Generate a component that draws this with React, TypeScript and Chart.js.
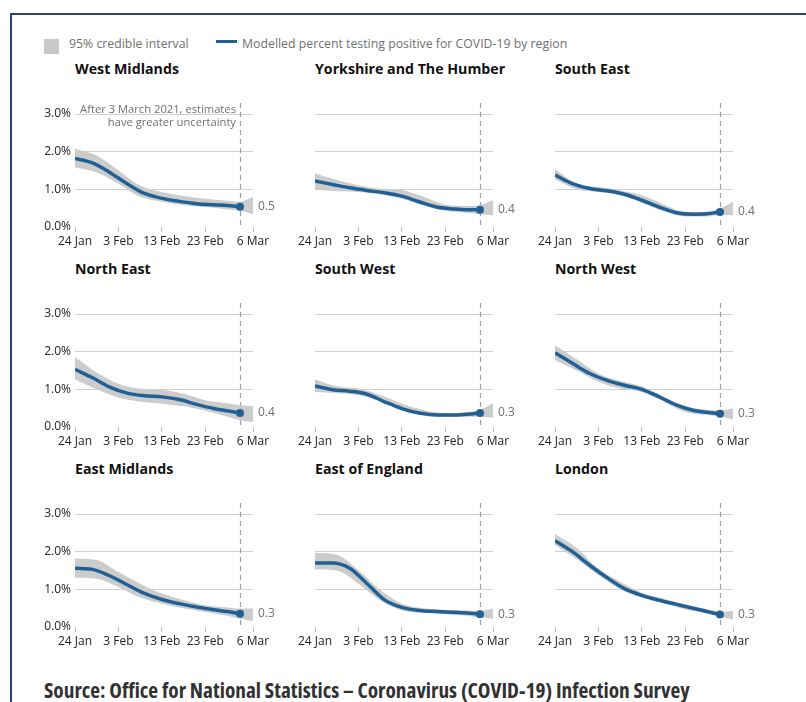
import React, { useEffect, useRef } from "react";
import { Chart, registerables } from "chart.js";

Chart.register(...registerables);

// ---- Data ----
const regions = [
  "West Midlands", "Yorkshire and The Humber", "South East",
  "North East", "South West", "North West",
  "East Midlands", "East of England", "London",
];
// days since 24 Jan 2021
const lineDays = [0, 4, 8, 12, 16, 20, 24, 28, 32, 35, 38];
const bandDays = [0, 5, 10, 15, 20, 25, 30, 35, 38, 41];
const tickDays = [0, 10, 20, 30, 41];
const tickLabels = ["24 Jan", "3 Feb", "13 Feb", "23 Feb", "6 Mar"];
const yTicks = [0, 1, 2, 3];
const endLabels = ["0.5", "0.4", "0.4", "0.4", "0.3", "0.3", "0.3", "0.3", "0.3"];

const westMidlandsLine = [1.82, 1.7, 1.45, 1.15, 0.89, 0.76, 0.68, 0.62, 0.59, 0.57, 0.54];
const westMidlandsUpper = [2.08, 1.9, 1.5, 1.1, 0.93, 0.82, 0.75, 0.7, 0.67, 0.8];
const westMidlandsLower = [1.58, 1.45, 1.15, 0.8, 0.67, 0.58, 0.53, 0.47, 0.43, 0.34];

const yorkshireLine = [1.22, 1.13, 1.04, 0.97, 0.91, 0.82, 0.67, 0.53, 0.48, 0.46, 0.46];
const yorkshireUpper = [1.42, 1.25, 1.11, 1.02, 0.98, 0.8, 0.59, 0.56, 0.58, 0.71];
const yorkshireLower = [0.99, 0.95, 0.93, 0.86, 0.75, 0.57, 0.43, 0.38, 0.34, 0.31];

const southEastLine = [1.38, 1.15, 1.02, 0.96, 0.87, 0.71, 0.53, 0.38, 0.34, 0.35, 0.4];
const southEastUpper = [1.53, 1.15, 1.06, 0.97, 0.84, 0.6, 0.4, 0.4, 0.49, 0.67];
const southEastLower = [1.26, 1.0, 0.93, 0.85, 0.64, 0.42, 0.28, 0.28, 0.31, 0.31];

const northEastLine = [1.53, 1.31, 1.06, 0.9, 0.83, 0.8, 0.73, 0.6, 0.49, 0.43, 0.37];
const northEastUpper = [1.86, 1.45, 1.15, 1.02, 0.99, 0.88, 0.71, 0.63, 0.58, 0.56];
const northEastLower = [1.26, 1.0, 0.78, 0.67, 0.62, 0.55, 0.43, 0.28, 0.18, 0.13];

const southWestLine = [1.09, 0.99, 0.95, 0.87, 0.67, 0.49, 0.37, 0.32, 0.32, 0.34, 0.37];
const southWestUpper = [1.26, 1.08, 1.02, 0.85, 0.62, 0.45, 0.37, 0.39, 0.46, 0.64];
const southWestLower = [0.93, 0.9, 0.84, 0.7, 0.44, 0.32, 0.27, 0.27, 0.27, 0.25];

const northWestLine = [1.97, 1.69, 1.42, 1.24, 1.11, 1.0, 0.8, 0.58, 0.44, 0.39, 0.35];
const northWestUpper = [2.17, 1.8, 1.42, 1.22, 1.08, 0.8, 0.55, 0.46, 0.44, 0.49];
const northWestLower = [1.77, 1.5, 1.2, 1.02, 0.93, 0.68, 0.4, 0.32, 0.28, 0.2];

const eastMidlandsLine = [1.56, 1.53, 1.36, 1.12, 0.89, 0.73, 0.62, 0.53, 0.46, 0.41, 0.35];
const eastMidlandsUpper = [1.82, 1.78, 1.46, 1.15, 0.89, 0.72, 0.58, 0.52, 0.49, 0.49];
const eastMidlandsLower = [1.31, 1.28, 1.06, 0.78, 0.62, 0.5, 0.4, 0.3, 0.22, 0.16];

const eastEnglandLine = [1.7, 1.7, 1.56, 1.15, 0.72, 0.52, 0.44, 0.41, 0.39, 0.37, 0.34];
const eastEnglandUpper = [1.97, 1.92, 1.51, 0.98, 0.62, 0.5, 0.46, 0.44, 0.43, 0.49];
const eastEnglandLower = [1.53, 1.5, 1.15, 0.71, 0.44, 0.38, 0.34, 0.3, 0.25, 0.22];

const londonLine = [2.29, 2.0, 1.64, 1.31, 1.02, 0.84, 0.71, 0.6, 0.49, 0.41, 0.33];
const londonUpper = [2.47, 2.1, 1.55, 1.2, 0.91, 0.75, 0.6, 0.48, 0.4, 0.43];
const londonLower = [2.17, 1.8, 1.38, 1.0, 0.78, 0.63, 0.47, 0.36, 0.27, 0.2];

const lineSeries = [westMidlandsLine, yorkshireLine, southEastLine, northEastLine, southWestLine, northWestLine, eastMidlandsLine, eastEnglandLine, londonLine];
const upperSeries = [westMidlandsUpper, yorkshireUpper, southEastUpper, northEastUpper, southWestUpper, northWestUpper, eastMidlandsUpper, eastEnglandUpper, londonUpper];
const lowerSeries = [westMidlandsLower, yorkshireLower, southEastLower, northEastLower, southWestLower, northWestLower, eastMidlandsLower, eastEnglandLower, londonLower];

const uncertaintyDay = 38;
const annotationLines = ["After 3 March 2021, estimates", "have greater uncertainty"];

// ---- Styles ----
const FONT = "'Open Sans', 'Noto Sans', sans-serif";
const BLUE = "#206095";
const BAND = "#cccccc";
const GRID = "#d0d0d0";
const TEXT = "#222222";
const MUTED = "#707070";

const Y_AXIS_W = 45;
const PLOT_W = 178;
const RIGHT_PAD = 35;
const TOP_PAD = 20;
const PLOT_H = 113;
const X_AXIS_H = 25;

function Panel({ idx }: { idx: number }) {
  const ref = useRef<HTMLCanvasElement | null>(null);
  const col = idx % 3;
  const row = Math.floor(idx / 3);
  const left = 30 + 240 * col;
  const top = 94 + 200 * row;
  const width = Y_AXIS_W + PLOT_W + RIGHT_PAD;
  const height = TOP_PAD + PLOT_H + X_AXIS_H;

  useEffect(() => {
    if (!ref.current) return;
    const line = lineSeries[idx];
    const upper = upperSeries[idx];
    const lower = lowerSeries[idx];
    const showY = col === 0;

    const panelPlugin = {
      id: "panelDecor",
      beforeDatasetsDraw(chart: any) {
        const { ctx, chartArea, scales } = chart;
        const x = Math.round(scales.x.getPixelForValue(uncertaintyDay)) + 0.5;
        ctx.save();
        ctx.strokeStyle = "#9e9e9e";
        ctx.lineWidth = 1.2;
        ctx.setLineDash([5, 4]);
        ctx.beginPath();
        ctx.moveTo(x, chartArea.top - 11);
        ctx.lineTo(x, chartArea.bottom);
        ctx.stroke();
        ctx.restore();
      },
      afterDatasetsDraw(chart: any) {
        const { ctx, scales } = chart;
        ctx.save();
        ctx.font = `12px ${FONT}`;
        ctx.fillStyle = MUTED;
        ctx.textAlign = "left";
        ctx.textBaseline = "middle";
        const ex = scales.x.getPixelForValue(bandDays[bandDays.length - 1]) + 5;
        const ey = scales.y.getPixelForValue(line[line.length - 1]);
        ctx.fillText(endLabels[idx], ex, ey);
        if (idx === 0) {
          const ax = scales.x.getPixelForValue(uncertaintyDay) - 4;
          const top0 = chart.chartArea.top;
          ctx.font = `11.2px ${FONT}`;
          ctx.textAlign = "right";
          ctx.fillText(annotationLines[0], ax, top0 - 4.5);
          ctx.fillText(annotationLines[1], ax, top0 + 8.5);
        }
        ctx.restore();
      },
    };

    const chart = new Chart(ref.current, {
      type: "line",
      data: {
        datasets: [
          {
            data: lineDays.map((d, i) => ({ x: d, y: line[i] })),
            borderColor: BLUE,
            borderWidth: 3.5,
            cubicInterpolationMode: "monotone",
            fill: false,
            pointRadius: (c: any) => (c.dataIndex === lineDays.length - 1 ? 4 : 0),
            pointBackgroundColor: BLUE,
            pointBorderWidth: 0,
          },
          {
            data: bandDays.map((d, i) => ({ x: d, y: upper[i] })),
            borderWidth: 0,
            borderColor: "rgba(0,0,0,0)",
            backgroundColor: BAND,
            cubicInterpolationMode: "monotone",
            fill: "+1",
            pointRadius: 0,
          },
          {
            data: bandDays.map((d, i) => ({ x: d, y: lower[i] })),
            borderWidth: 0,
            borderColor: "rgba(0,0,0,0)",
            cubicInterpolationMode: "monotone",
            fill: false,
            pointRadius: 0,
          },
        ],
      } as any,
      options: {
        animation: false,
        responsive: false,
        maintainAspectRatio: false,
        devicePixelRatio: 1,
        layout: { padding: { top: TOP_PAD, right: RIGHT_PAD, left: 0, bottom: 0 } },
        plugins: { legend: { display: false }, tooltip: { enabled: false } },
        scales: {
          x: {
            type: "linear",
            min: 0,
            max: 41,
            afterBuildTicks: (s: any) => {
              s.ticks = tickDays.map((v) => ({ value: v }));
            },
            afterFit: (s: any) => {
              s.height = X_AXIS_H;
            },
            grid: {
              display: true,
              drawOnChartArea: false,
              drawTicks: true,
              tickLength: 5,
              tickColor: "#bdbdbd",
            },
            border: { display: false },
            ticks: {
              autoSkip: false,
              maxRotation: 0,
              padding: 2,
              color: TEXT,
              font: { family: FONT, size: 12 },
              callback: (_v: any, i: number) => tickLabels[i],
            },
          },
          y: {
            type: "linear",
            min: 0,
            max: 3,
            afterBuildTicks: (s: any) => {
              s.ticks = yTicks.map((v) => ({ value: v }));
            },
            afterFit: (s: any) => {
              s.width = Y_AXIS_W;
            },
            grid: {
              drawTicks: false,
              color: (c: any) => (c.tick && c.tick.value === 0 ? "rgba(0,0,0,0)" : GRID),
              lineWidth: 1,
            },
            border: { display: false },
            ticks: {
              display: showY,
              padding: 4,
              color: TEXT,
              font: { family: FONT, size: 12 },
              callback: (v: any) => Number(v).toFixed(1) + "%",
            },
          },
        },
      } as any,
      plugins: [panelPlugin],
    });
    return () => chart.destroy();
  }, [idx]);

  return (
    <canvas
      ref={ref}
      width={width}
      height={height}
      style={{ position: "absolute", left, top, width, height }}
    />
  );
}

export default function App() {
  return (
    <div style={{ position: "fixed", inset: 0, overflow: "hidden", background: "#fff", fontFamily: FONT }}>
      <div
        style={{
          position: "absolute", left: 10, top: 13, width: 1000, height: 1000,
          borderTop: "2px solid #2a4570", borderLeft: "2px solid #2a4570",
        }}
      />
      {/* legend */}
      <div style={{ position: "absolute", left: 44, top: 39, width: 15, height: 15, background: "#c8c8c8" }} />
      <div style={{ position: "absolute", left: 69, top: 35, fontSize: 12.3, color: MUTED, lineHeight: "17px", whiteSpace: "nowrap" }}>
        95% credible interval
      </div>
      <div style={{ position: "absolute", left: 216, top: 40, width: 21, height: 3, background: BLUE }} />
      <div style={{ position: "absolute", left: 242, top: 35, fontSize: 12.3, color: MUTED, lineHeight: "17px", whiteSpace: "nowrap" }}>
        Modelled percent testing positive for COVID-19 by region
      </div>
      {regions.map((r, i) => (
        <div
          key={r}
          style={{
            position: "absolute",
            left: 75 + 240 * (i % 3),
            top: 59 + 200 * Math.floor(i / 3),
            fontSize: 14.2,
            fontWeight: 700,
            color: "#111",
            lineHeight: "20px",
            whiteSpace: "nowrap",
          }}
        >
          {r}
        </div>
      ))}
      {regions.map((_, i) => (
        <Panel key={i} idx={i} />
      ))}
      <div
        style={{
          position: "absolute", left: 44, top: 675, fontSize: 21.3, fontWeight: 700,
          color: "#323132", whiteSpace: "nowrap", lineHeight: "30px", fontStretch: "condensed",
        }}
      >
        Source: Office for National Statistics – Coronavirus (COVID-19) Infection Survey
      </div>
    </div>
  );
}
